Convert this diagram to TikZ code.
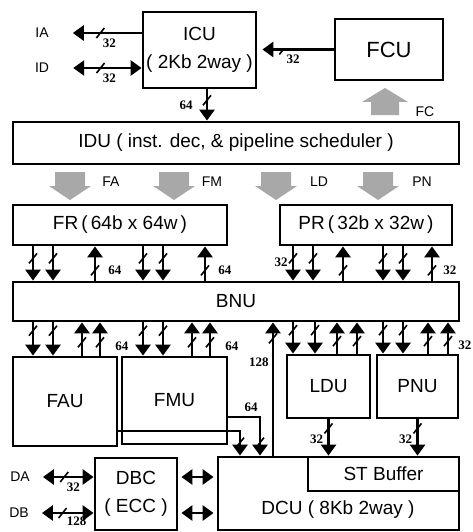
\documentclass[tikz,border=0pt]{standalone}
\usepackage{fontspec}
\setmainfont{Liberation Sans}
\newfontfamily\bitsfont{Liberation Serif}
\usetikzlibrary{arrows.meta,decorations.markings}
\definecolor{halftoneGray}{RGB}{168,168,168}

\begin{document}
\begin{tikzpicture}[
  x=1pt, y=-1pt,
  >={Triangle[width=15pt,length=11pt]},
  unit/.style={
    draw,
    line width=2.8pt,
    inner sep=0pt,
    align=center,
    font=\fontsize{19}{28}\selectfont
  },
  wire/.style={line width=2.8pt},
  bus/.style={
    wire,
    postaction={decorate},
    decoration={markings,
      mark=at position #1 with {\pgftransformresetnontranslations
        \draw[-,line width=1.6pt] (-4pt,-5pt) -- (4pt,5pt);}}
  },
  bus/.default=0.35,
  bits/.style={font=\bitsfont\bfseries\fontsize{13}{13}\selectfont,inner sep=1pt},
  signal/.style={font=\fontsize{14}{14}\selectfont,inner sep=0pt},
  fat/.style={fill=halftoneGray}
]
  \useasboundingbox (0,0) rectangle (472,532);

  \node[unit,minimum width=113pt,minimum height=76pt] (icu) at (199.5,50)
    {ICU\\( 2Kb 2way )};
  \node[unit,minimum width=108pt,minimum height=61pt,font=\fontsize{22}{28}\selectfont] (fcu)
    at (389,49.5) {FCU};
  \node[unit,minimum width=446pt,minimum height=42pt] (idu) at (236,143)
    {IDU ( inst. dec, \& pipeline scheduler )};
  \node[unit,minimum width=214pt,minimum height=40pt] (fr) at (120,225)
    {FR\,(\,64b x 64w\,)};
  \node[unit,minimum width=172pt,minimum height=40pt] (pr) at (366,225)
    {PR\,(\,32b x 32w\,)};
  \node[unit,minimum width=446pt,minimum height=39pt] (bnu) at (236,301.5) {BNU};
  \node[unit,minimum width=104pt,minimum height=89pt] (fau) at (65,401.5) {FAU};
  \node[unit,minimum width=105pt,minimum height=87pt] (fmu) at (174.5,400.5) {FMU};
  \node[unit,minimum width=83pt,minimum height=63pt] (ldu) at (328.5,386.5) {LDU};
  \node[unit,minimum width=81pt,minimum height=63pt] (pnu) at (417.5,386.5) {PNU};
  \node[unit,minimum width=241pt,minimum height=73pt] (dcu) at (338.5,493.5) {};
  \node[unit,minimum width=151pt,minimum height=34pt] (stbuf) at (383.5,474) {ST Buffer};
  \node[font=\fontsize{19}{28}\selectfont,inner sep=0pt] (dcutext) at (338,510)
    {DCU ( 8Kb 2way )};
  \node[unit,minimum width=82pt,minimum height=72pt] (dbc) at (136,494) {DBC\\( ECC )};

  \node[signal] (ia) at (42,33) {IA};
  \node[signal] (id) at (42,68) {ID};
  \node[signal] (da) at (20,477) {DA};
  \node[signal] (db) at (19,513) {DB};

  \foreach \x/\sig/\lx/\n in {70/FA/111/fa,174/FM/212/fm,276/LD/319/ld,378/PN/422/pn} {
    \fill[fat] (\x-15,172) -- (\x+15,172) -- (\x+15,186) -- (\x+21,186)
      -- (\x,200) -- (\x-21,186) -- (\x-15,186) -- cycle;
    \node[signal] (\n) at (\lx,182) {\sig};
  }
  \fill[fat] (371,115) -- (399,115) -- (399,102) -- (408,102) -- (385,88)
    -- (362,102) -- (371,102) -- cycle;
  \node[signal] (fc) at (425,112) {FC};

  \draw[bus=.6,->] (icu.west |- ia) -- node[bits,pos=.47,below=3pt]{32} ([xshift=24pt]ia.east);
  \draw[bus=.6,<->] (icu.west |- id) -- node[bits,pos=.47,below=3pt]{32} ([xshift=24pt]id.east);
  \draw[bus=.66,->,shorten >=5pt] (fcu) -- node[bits,pos=.53,below=3pt]{32} (icu.east |- fcu);
  \draw[bus,->] (207,0 |- icu.south) -- node[bits,left=12pt]{64} (207,0 |- idu.north);

  \foreach \x in {33,53,143,163}
    \draw[bus,->] (\x,0 |- fr.south) -- (\x,0 |- bnu.north);
  \foreach \x in {95,205}
    \draw[bus=.3,->] (\x,0 |- bnu.north) -- node[bits,pos=.3,right=11pt]{64} (\x,0 |- fr.south);
  \draw[bus,->] (293,0 |- pr.south) -- node[bits,pos=.45,left=3pt]{32} (293,0 |- bnu.north);
  \foreach \x in {313,383,403}
    \draw[bus,->] (\x,0 |- pr.south) -- (\x,0 |- bnu.north);
  \draw[bus=.3,->] (343,0 |- bnu.north) -- (343,0 |- pr.south);
  \draw[bus=.3,->] (432,0 |- bnu.north) -- node[bits,pos=.3,right=9pt]{32} (432,0 |- pr.south);

  \foreach \x/\u in {33/fau,53/fau,143/fmu,163/fmu,293/ldu,315/ldu,383/pnu,403/pnu}
    \draw[bus=.25,->] (\x,0 |- bnu.south) -- (\x,0 |- \u.north);
  \foreach \x/\u in {82/fau,192/fmu,337/ldu,357/ldu,428/pnu}
    \draw[bus=.4,->] (\x,0 |- \u.north) -- (\x,0 |- bnu.south);
  \foreach \x/\u in {100/fau,210/fmu}
    \draw[bus=.4,->] (\x,0 |- \u.north) -- node[bits,pos=.28,right=13pt]{64} (\x,0 |- bnu.south);
  \draw[bus=.4,->] (448,0 |- pnu.north) -- node[bits,pos=.28,right=8pt]{32} (448,0 |- bnu.south);
  \draw[bus=.88,->] (273,0 |- dcu.north) -- node[bits,pos=.7,left=2pt]{128} (273,0 |- bnu.south);

  \draw[bus=.25,->] (ldu) -- node[bits,pos=.56,left=3pt]{32} (ldu |- dcu.north);
  \draw[bus=.25,->] (pnu) -- node[bits,pos=.56,left=3pt]{32} (pnu |- dcu.north);
  \draw[bus=-13pt,->] (fau.east |- 0,431) -- (240,431) -- (240,0 |- dcu.north);
  \draw[bus=-13pt,->] (fmu.east |- 0,417) -- (260,417)
    node[bits,anchor=south east,yshift=3pt]{64} -- (260,0 |- dcu.north);

  \draw[wire,<->,shorten <=3pt,shorten >=3pt] (dbc.east |- da) -- (dcu.west |- da);
  \draw[wire,<->,shorten <=3pt,shorten >=3pt] (dbc.east |- db) -- (dcu.west |- db);
  \draw[bus=.58,<->] (dbc.west |- da) -- node[bits,pos=.4,below=3pt]{32} ([xshift=13pt]da.east);
  \draw[bus=.6,<->] (dbc.west |- db) -- node[bits,pos=.33,below=1pt]{128} ([xshift=13pt]db.east);
\end{tikzpicture}
\end{document}
